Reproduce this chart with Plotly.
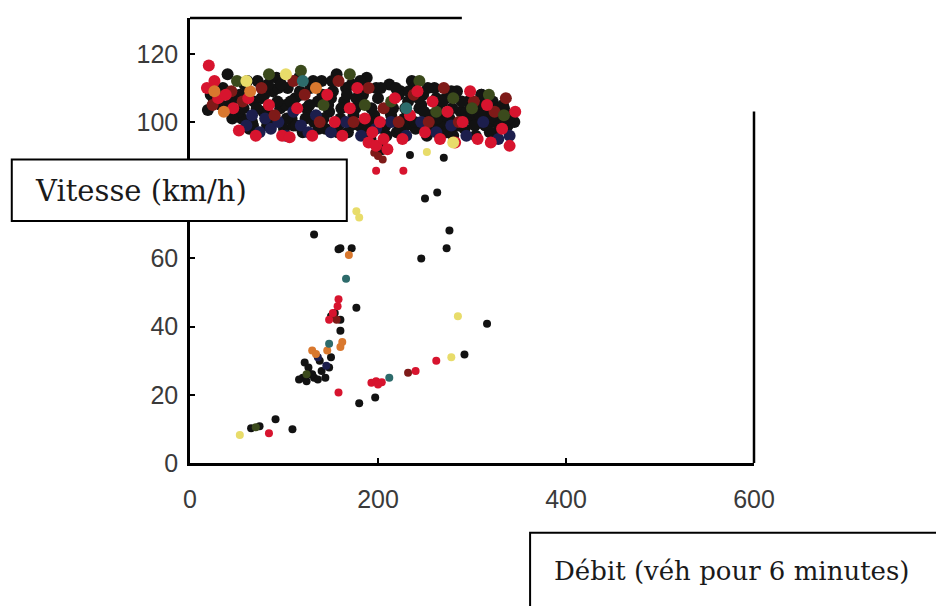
import plotly.graph_objects as go

# ---- data ----
x_ticks = [0, 200, 400, 600]
y_ticks = [0, 20, 40, 60, 100, 120]

black_x = [19, 22, 35, 40, 42, 55, 58, 63, 68, 72, 78, 82, 88, 92, 96, 100, 104, 108, 112, 116,
           120, 124, 128, 132, 136, 140, 144, 148, 152, 156, 160, 164, 168, 172, 176, 180, 184, 188, 192, 196,
           200, 204, 208, 212, 216, 220, 224, 228, 232, 236, 240, 244, 248, 252, 256, 260, 264, 268, 272, 276,
           280, 284, 288, 292, 296, 300, 304, 308, 310, 314, 318, 322, 326, 330, 334, 338, 342, 345,
           30, 48, 52, 60, 66, 76, 86, 94, 102, 110, 118, 126, 134, 142, 150, 158, 166, 174, 182, 190,
           198, 206, 214, 222, 230, 238, 246, 254, 262, 270, 278, 286, 294, 302, 312, 320, 328, 336,
           25, 33, 45, 53, 57, 61, 67, 71, 79, 83, 89, 93, 97, 103, 107, 113, 117, 123, 127, 131,
           137, 141, 147, 151, 157, 161, 167, 171, 177, 181, 187, 193, 199, 203, 209, 213, 219, 223, 229, 233,
           239, 243, 249, 253, 259, 263, 269, 273, 279, 283, 289, 293, 299, 303, 309, 313, 319, 323, 329, 333, 339,
           132, 160, 172, 158, 177, 150, 154, 160, 160, 180, 197, 292, 316, 250, 263, 276, 273, 246, 234, 270,
           65, 74, 91, 109, 310, 120, 124, 128, 132, 136, 140, 144, 148, 122, 126, 138, 150, 116, 130]
black_y = [103.5, 108, 110, 114, 105, 101, 111, 98, 106, 112, 103, 99, 109, 113, 104, 98, 110, 101, 107, 113,
           97, 104, 110, 100, 106, 112, 98, 103, 109, 114, 101, 106, 97, 111, 104, 99, 108, 113, 95, 102,
           107, 92, 99, 111, 104, 97, 109, 101, 106, 112, 98, 104, 108, 96, 102, 110, 105, 99, 107, 101,
           96, 109, 103, 98, 106, 101, 96, 104, 108, 99, 102, 106, 97, 101, 104, 99, 102, 100,
           109, 107, 103, 108, 100, 107, 102, 110, 105, 99, 108, 102, 111, 101, 107, 99, 110, 102, 106, 100,
           110, 98, 102, 108, 99, 110, 105, 99, 107, 102, 109, 99, 103, 100, 105, 100, 104, 98,
           107, 105, 101, 108, 104, 112, 99, 104, 108, 111, 100, 106, 111, 101, 106, 99, 109, 101, 105, 112,
           98, 108, 105, 112, 97, 104, 108, 99, 107, 112, 97, 104, 100, 110, 96, 103, 110, 98, 104, 109,
           100, 107, 103, 110, 98, 101, 106, 97, 104, 99, 106, 101, 103, 99, 102, 105, 97, 101, 99, 105, 101,
           67, 63, 63, 62.7, 45.5, 43, 44, 42, 38.8, 17.5, 19.2, 31.8, 40.8, 77.6, 79.3, 68.2, 63, 60, 90.3, 89.5,
           10.2, 10.8, 12.8, 9.9, 108, 25, 24, 26, 25, 24.5, 27, 25, 28, 29.5, 28, 30, 31, 24.5, 26]

navy_x = [60, 66, 74, 80, 86, 94, 102, 110, 118, 126, 134, 150, 166, 182, 198, 214, 230, 246, 262, 278,
          294, 312, 328, 340, 145, 136]
navy_y = [99, 102, 97, 101, 98, 100, 96, 103, 99, 97, 102, 97, 100, 96, 98, 100, 96, 100, 97, 99,
          96, 100, 95, 96, 28.5, 31]

darkred_x = [24, 44, 56, 76, 90, 110, 122, 138, 158, 174, 190, 206, 222, 238, 254, 270, 286, 302, 324, 336,
             200, 196, 205, 232, 152, 156]
darkred_y = [105, 109, 106, 110, 102, 112, 108, 100, 112, 100, 110, 104, 100, 108, 100, 110, 100, 106, 103, 107,
             90, 91, 89, 26.5, 43, 42]

green_x = [50, 84, 118, 142, 170, 186, 214, 244, 262, 280, 300, 318, 334, 124, 70]
green_y = [112, 114, 115, 105, 114, 105, 106, 112, 103, 107, 104, 108, 102, 26, 10.5]

red_x = [20, 18, 26, 30, 38, 46, 52, 62, 70, 84, 98, 106, 114, 130, 146, 154, 162, 170, 178, 186,
         190, 194, 198, 202, 206, 210, 218, 226, 234, 242, 250, 258, 266, 274, 282, 290, 298, 306, 316, 320,
         332, 340, 346, 198, 227, 158, 148, 152, 158, 193, 198, 204, 200, 262, 84, 240, 157]
red_y = [116.6, 110, 112, 107, 108, 104, 97.5, 107, 96, 105, 96, 95.5, 104, 96, 108, 100, 96, 104, 110, 101,
         94, 97, 93, 100, 95, 92, 107, 95, 102, 109, 97, 106, 95, 103, 94, 100, 109, 95, 105, 94,
         98, 93, 103, 85.7, 85.7, 48, 42, 44, 20.7, 23.5, 24, 23.7, 23, 30, 8.7, 27, 46]

orange_x = [36, 64, 134, 160, 169, 146, 130, 134, 162, 26]
orange_y = [103, 109, 110, 34, 61, 33, 33, 32, 35.5, 109]

teal_x = [166, 148, 212, 120, 230]
teal_y = [54, 35, 25, 112, 104]

yellow_x = [60, 102, 280, 177, 252, 285, 278, 53, 180]
yellow_y = [112, 114, 94, 73.8, 91.2, 43, 31, 8.2, 72]

groups = [
    (black_x, black_y, "#121212"),
    (navy_x, navy_y, "#1c1e4c"),
    (darkred_x, darkred_y, "#7e1a18"),
    (green_x, green_y, "#3b4a1c"),
    (red_x, red_y, "#d7142e"),
    (orange_x, orange_y, "#d9782e"),
    (teal_x, teal_y, "#2d6b6b"),
    (yellow_x, yellow_y, "#e8dc6a"),
]

fig = go.Figure()
for gx, gy, col in groups:
    sizes = [12 if v >= 92 else 8 for v in gy]   # dense free-flow band drawn with bigger dots
    fig.add_trace(go.Scatter(x=gx, y=gy, mode="markers",
                             marker=dict(size=sizes, color=col, opacity=1, line=dict(width=0)),
                             showlegend=False, hoverinfo="x+y"))

tick_font = dict(family="Liberation Sans, Arial, sans-serif", size=25, color="#3a3a3a")

fig.update_xaxes(range=[0, 600], tickvals=x_ticks, ticktext=[str(v) for v in x_ticks],
                 ticks="inside", ticklen=5, tickwidth=2, tickcolor="black",
                 showline=True, linewidth=2.5, linecolor="black",
                 showgrid=False, zeroline=False, tickfont=tick_font, ticklabelstandoff=12)
fig.update_yaxes(range=[0, 130.5], tickvals=y_ticks, ticktext=[str(v) for v in y_ticks],
                 ticks="inside", ticklen=5, tickwidth=2, tickcolor="black",
                 showline=True, linewidth=2.5, linecolor="black",
                 showgrid=False, zeroline=False, tickfont=tick_font, ticklabelstandoff=4)

shapes = [
    # partial top frame line
    dict(type="line", xref="paper", yref="paper", x0=0, x1=0.482, y0=1, y1=1,
         line=dict(color="black", width=2.5)),
    # partial right frame line
    dict(type="line", xref="paper", yref="paper", x0=1, x1=1, y0=0, y1=0.79,
         line=dict(color="black", width=2.5)),
    # Vitesse label box
    dict(type="rect", xref="paper", yref="paper", x0=-0.316, x1=0.278, y0=0.544, y1=0.682,
         fillcolor="white", line=dict(color="black", width=2), layer="above"),
    # Débit label box
    dict(type="rect", xref="paper", yref="paper", x0=0.603, x1=1.40, y0=-0.40, y1=-0.157,
         fillcolor="white", line=dict(color="black", width=2), layer="above"),
]

annotations = [
    dict(text="Vitesse (km/h)", xref="paper", yref="paper", x=-0.278, y=0.611,
         xanchor="left", yanchor="middle", showarrow=False,
         font=dict(family="DejaVu Serif, Liberation Serif, serif", size=29, color="#1a1a1a")),
    dict(text="Débit (véh pour 6 minutes)", xref="paper", yref="paper", x=0.642, y=-0.242,
         xanchor="left", yanchor="middle", showarrow=False,
         font=dict(family="DejaVu Serif, Liberation Serif, serif", size=26, color="#1a1a1a")),
]

fig.update_layout(width=944, height=606, autosize=False,
                  margin=dict(l=182, r=198, t=10, b=151),
                  plot_bgcolor="white", paper_bgcolor="white",
                  shapes=shapes, annotations=annotations, showlegend=False)

fig.write_html("out.html")
